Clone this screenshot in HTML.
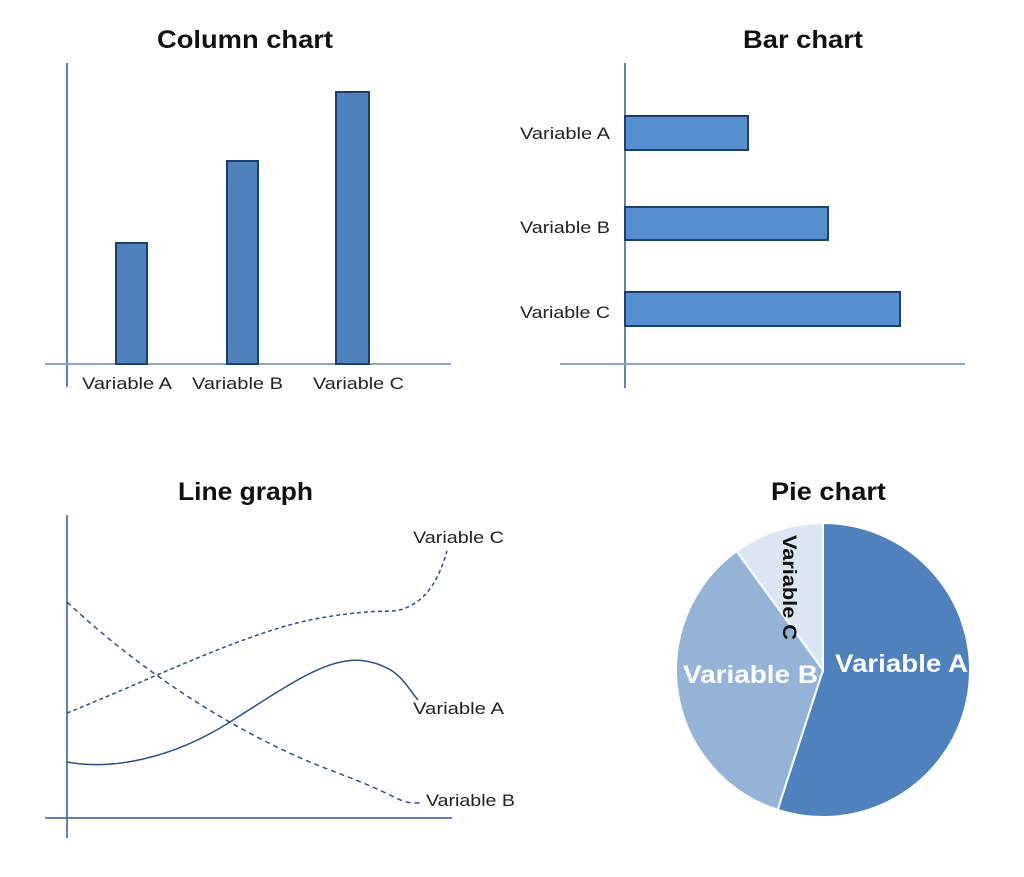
<!DOCTYPE html>
<html><head><meta charset="utf-8"><style>
html,body{margin:0;padding:0;background:#fff;}
svg{display:block;}
text{font-family:"Liberation Sans",sans-serif;}
</style></head><body>
<svg width="1024" height="877" viewBox="0 0 1024 877" xmlns="http://www.w3.org/2000/svg">
<!-- Titles -->
<g font-weight="bold" font-size="25" fill="#111" lengthAdjust="spacingAndGlyphs">
<text x="157" y="48" textLength="176" lengthAdjust="spacingAndGlyphs">Column chart</text>
<text x="743" y="48" textLength="120" lengthAdjust="spacingAndGlyphs">Bar chart</text>
<text x="178" y="500" textLength="135" lengthAdjust="spacingAndGlyphs">Line graph</text>
<text x="771" y="500" textLength="115" lengthAdjust="spacingAndGlyphs">Pie chart</text>
</g>
<!-- Column chart -->
<line x1="67" y1="63" x2="67" y2="387" stroke="#2f5a8f" stroke-width="1.5"/>
<line x1="45" y1="364" x2="451" y2="364" stroke="#8ca6c8" stroke-width="2"/>
<g fill="#4f81bd" stroke="#1f3f6b" stroke-width="2">
<rect x="116" y="243" width="31" height="121"/>
<rect x="227" y="161" width="31" height="203"/>
<rect x="336" y="92" width="33" height="272"/>
</g>
<g font-size="17" fill="#222">
<text x="82" y="389" textLength="90" lengthAdjust="spacingAndGlyphs">Variable A</text>
<text x="192" y="389" textLength="91" lengthAdjust="spacingAndGlyphs">Variable B</text>
<text x="313" y="389" textLength="91" lengthAdjust="spacingAndGlyphs">Variable C</text>
</g>
<!-- Bar chart -->
<line x1="625" y1="63" x2="625" y2="388" stroke="#2f5a8f" stroke-width="1.5"/>
<line x1="560" y1="364" x2="965" y2="364" stroke="#8ca6c8" stroke-width="2"/>
<g fill="#568fd0" stroke="#1f3f6b" stroke-width="2">
<rect x="625" y="116" width="123" height="34"/>
<rect x="625" y="207" width="203" height="33"/>
<rect x="625" y="292" width="275" height="34"/>
</g>
<g font-size="17" fill="#222">
<text x="520" y="139" textLength="90" lengthAdjust="spacingAndGlyphs">Variable A</text>
<text x="520" y="233" textLength="90" lengthAdjust="spacingAndGlyphs">Variable B</text>
<text x="520" y="318" textLength="90" lengthAdjust="spacingAndGlyphs">Variable C</text>
</g>
<!-- Line graph -->
<line x1="67" y1="515" x2="67" y2="838" stroke="#2f5a8f" stroke-width="1.5"/>
<line x1="45" y1="818" x2="452" y2="818" stroke="#2f5a8f" stroke-width="1.5"/>
<g fill="none" stroke="#2f4f7f" stroke-width="1.5">
<path d="M67,713 C150,680 250,630 320,618 S390,616 410,606 S440,575 447,551" stroke-dasharray="4,3"/>
<path d="M67,602 C150,680 250,740 330,770 S395,803 420,803" stroke-dasharray="5,4"/>
<path d="M67,762 C110,770 170,760 230,722 S330,655 365,661 S405,685 418,700"/>
</g>
<g font-size="17" fill="#222">
<text x="413" y="543" textLength="91" lengthAdjust="spacingAndGlyphs">Variable C</text>
<text x="413" y="714" textLength="91" lengthAdjust="spacingAndGlyphs">Variable A</text>
<text x="426" y="806" textLength="89" lengthAdjust="spacingAndGlyphs">Variable B</text>
</g>
<!-- Pie chart -->
<g stroke="#fff" stroke-width="2">
<path d="M823,670 L823,523 A147,147 0 1 1 777.6,809.8 Z" fill="#4f81bd"/>
<path d="M823,670 L777.6,809.8 A147,147 0 0 1 736.6,551.1 Z" fill="#95b3d7"/>
<path d="M823,670 L736.6,551.1 A147,147 0 0 1 823,523 Z" fill="#dce6f2"/>
</g>
<g font-weight="bold" fill="#fff" font-size="25">
<text x="835" y="672" textLength="133" lengthAdjust="spacingAndGlyphs">Variable A</text>
<text x="683" y="683" textLength="135" lengthAdjust="spacingAndGlyphs">Variable B</text>
</g>
<text transform="translate(783,535) rotate(90)" font-weight="bold" font-size="19" fill="#111" textLength="105" lengthAdjust="spacingAndGlyphs">Variable C</text>
</svg>
</body></html>
